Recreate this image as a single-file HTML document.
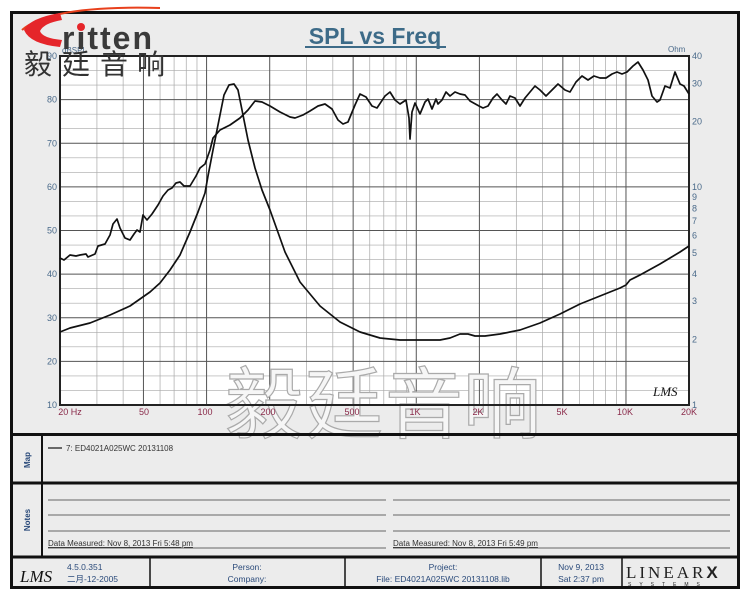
<!DOCTYPE html>
<html><head><meta charset="utf-8"><style>
body{margin:0;background:#fff;width:750px;height:600px;overflow:hidden}
svg{display:block}
text{font-family:"Liberation Sans","Noto Sans CJK SC",sans-serif}
</style></head><body>
<svg width="750" height="600" viewBox="0 0 750 600" xmlns="http://www.w3.org/2000/svg">
<rect x="0" y="0" width="750" height="600" fill="#fff"/>
<rect x="11.5" y="12.5" width="727" height="575" fill="#ececec" stroke="#111" stroke-width="3"/>
<!-- title -->
<text x="375" y="44" text-anchor="middle" font-size="23" font-weight="bold" fill="#3d6b88">SPL vs Freq</text>
<line x1="305" y1="47" x2="446" y2="47" stroke="#3d6b88" stroke-width="2"/>
<!-- plot -->
<rect x="60" y="56" width="629" height="349" fill="#fff"/>
<g id="grid" stroke="#a8a8a8" stroke-width="0.7"></g>
<g id="grid2" stroke="#555" stroke-width="1"></g>
<!-- watermark -->
<g font-size="78" fill="#f6f6f6" stroke="#aaa" stroke-width="1.2" style="font-family:'Noto Serif CJK SC','Noto Sans CJK SC',serif">
<text x="225" y="432">毅</text><text x="305" y="432">廷</text><text x="385" y="432">音</text><text x="463" y="432">响</text>
</g>
<rect x="60" y="56" width="629" height="349" fill="none" stroke="#222" stroke-width="2"/>
<polyline fill="none" stroke="#111" stroke-width="1.7" stroke-linejoin="round" points="60,258 64,260 70,255 76,256 80,255 86,254 88,257 95,254 98,246 105,244 110,235 113,224 117,219 120,228 125,238 130,240 134,234 137,230 140,232 143,215 147,220 152,214 158,205 163,196 168,190 172,188 176,183 180,182 184,186 190,186 196,176 200,168 205,164 210,150 213,138 220,130 230,125 240,118 248,110 255,101 262,102 270,106 280,112 290,117 295,118 303,115 310,111 318,106 325,104 332,109 338,120 343,124 348,122 355,105 360,94 366,97 372,106 377,108 385,96 390,92 395,100 400,104 403,102 406,100 409,118 410,139 412,112 415,103 420,114 425,102 428,99 432,109 436,99 438,104 442,100 446,92 450,96 455,92 460,94 465,95 470,101 479,106 483,108 488,106 493,98 497,94 502,100 506,104 510,96 515,98 520,106 525,98 530,92 535,86 540,90 546,96 552,90 558,84 565,90 570,92 576,82 582,76 588,80 594,76 600,78 606,78 612,74 617,72 622,74 627,72 633,66 638,62 643,70 648,80 652,96 657,102 660,100 665,86 670,88 675,72 680,84 684,86 689,94"/>
<polyline fill="none" stroke="#111" stroke-width="1.7" stroke-linejoin="round" points="60,332 70,328 90,323 110,315 130,306 150,292 160,283 170,270 180,255 190,232 198,212 205,193 208,176 213,150 218,125 224,95 229,85 234,84 238,90 242,110 248,140 255,168 262,190 270,210 285,252 300,282 320,306 340,322 360,332 380,338 400,340 420,340 440,340 450,338 460,334 468,334 475,336 485,336 500,334 520,330 540,323 560,314 580,304 600,296 620,288 626,285 630,280 640,275 660,264 680,252 689,246"/>
<text x="653" y="396" font-size="13" font-style="italic" fill="#111" style="font-family:'Liberation Serif',serif">LMS</text>
<g id="lbl" font-size="9" fill="#4a6a8a"></g>
<text x="62" y="53" font-size="8" fill="#4a6a8a">dBSPL</text>
<text x="668" y="52" font-size="8" fill="#4a6a8a">Ohm</text>
<g font-size="9" fill="#8a2a4a" text-anchor="middle">
<text x="70" y="415">20  Hz</text><text x="144" y="415">50</text><text x="205" y="415">100</text><text x="268" y="415">200</text><text x="352" y="415">500</text><text x="415" y="415">1K</text><text x="478" y="415">2K</text><text x="562" y="415">5K</text><text x="625" y="415">10K</text><text x="689" y="415">20K</text>
</g>
<!-- logo -->
<path d="M22,30 Q50,5 160,8" stroke="#e8401c" stroke-width="2" fill="none"/>
<path d="M60,13 Q30,18 24,30 Q30,44 60,47 L62,40 Q42,38 40,31 Q44,23 62,20 Z" fill="#e5252a"/>
<text x="62" y="49" font-size="32" font-weight="bold" fill="#3a3a3a" letter-spacing="2">ritten</text>
<circle cx="81" cy="27" r="4" fill="#e5252a"/>
<g font-size="28" fill="#333" style="font-family:'Noto Serif CJK SC','Noto Sans CJK SC',serif">
<text x="24" y="74">毅</text><text x="62" y="74">廷</text><text x="100" y="74">音</text><text x="137" y="74">响</text>
</g>
<!-- map -->
<line x1="11" y1="434.5" x2="739" y2="434.5" stroke="#111" stroke-width="3"/>
<line x1="11" y1="483" x2="739" y2="483" stroke="#111" stroke-width="3"/>
<line x1="11" y1="557" x2="739" y2="557" stroke="#111" stroke-width="3"/>
<line x1="42" y1="434" x2="42" y2="557" stroke="#111" stroke-width="2"/>
<text transform="translate(30,460) rotate(-90)" text-anchor="middle" font-size="8" font-weight="bold" fill="#2a4a7a">Map</text>
<text transform="translate(30,520) rotate(-90)" text-anchor="middle" font-size="8" font-weight="bold" fill="#2a4a7a">Notes</text>
<line x1="48" y1="448" x2="62" y2="448" stroke="#111" stroke-width="1.2"/>
<text x="66" y="451" font-size="8" fill="#333">7: ED4021A025WC   20131108</text>
<g stroke="#666" stroke-width="1">
<line x1="48" y1="500" x2="386" y2="500"/><line x1="48" y1="515" x2="386" y2="515"/><line x1="48" y1="531" x2="386" y2="531"/><line x1="48" y1="548" x2="386" y2="548"/>
<line x1="393" y1="500" x2="730" y2="500"/><line x1="393" y1="515" x2="730" y2="515"/><line x1="393" y1="531" x2="730" y2="531"/><line x1="393" y1="548" x2="730" y2="548"/>
</g>
<text x="48" y="546" font-size="8" fill="#333" text-decoration="underline">Data Measured: Nov  8, 2013  Fri  5:48 pm</text>
<text x="393" y="546" font-size="8" fill="#333" text-decoration="underline">Data Measured: Nov  8, 2013  Fri  5:49 pm</text>
<!-- footer -->
<g stroke="#111" stroke-width="1.5"><line x1="150" y1="557" x2="150" y2="587"/><line x1="345" y1="557" x2="345" y2="587"/><line x1="541" y1="557" x2="541" y2="587"/><line x1="622" y1="557" x2="622" y2="587"/></g>
<text x="20" y="582" font-size="17" font-style="italic" fill="#111" style="font-family:'Liberation Serif',serif">LMS</text>
<g font-size="8.5" fill="#2a4a7a">
<text x="67" y="570">4.5.0.351</text><text x="67" y="582">二月-12-2005</text>
<text x="247" y="570" text-anchor="middle">Person:</text><text x="247" y="582" text-anchor="middle">Company:</text>
<text x="443" y="570" text-anchor="middle">Project:</text><text x="443" y="582" text-anchor="middle">File: ED4021A025WC 20131108.lib</text>
<text x="581" y="570" text-anchor="middle">Nov  9, 2013</text><text x="581" y="582" text-anchor="middle">Sat  2:37 pm</text>
</g>
<text x="626" y="578" font-size="17" fill="#222" letter-spacing="3" style="font-family:'Liberation Serif',serif">LINEAR<tspan font-weight="bold" font-family="Liberation Sans">X</tspan></text>
<text x="628" y="586" font-size="5" fill="#222" letter-spacing="8">SYSTEMS</text>
</svg>
<script>
(function(){
var ns="http://www.w3.org/2000/svg",g=document.getElementById('grid'),g2=document.getElementById('grid2'),lb=document.getElementById('lbl');
function L(p,x1,y1,x2,y2){var l=document.createElementNS(ns,'line');l.setAttribute('x1',x1);l.setAttribute('y1',y1);l.setAttribute('x2',x2);l.setAttribute('y2',y2);p.appendChild(l);}
function T(x,y,s,a){var t=document.createElementNS(ns,'text');t.setAttribute('x',x);t.setAttribute('y',y);if(a)t.setAttribute('text-anchor',a);t.textContent=s;lb.appendChild(t);}
for(var d=10;d<=10000;d*=10){for(var m=1;m<10;m++){var f=d*m;if(f<20||f>20000)continue;var x=60+209.7*Math.log10(f/20);L((m==1||m==2||m==5)?g2:g,x,56,x,405);}}
for(var i=0;i<=24;i++){var y=56+i*349/24;L(i%3==0?g2:g,60,y,689,y);}
for(var v=90;v>=10;v-=10){T(57,56+(90-v)*4.3625+3,v,'end');}
var oh=[40,30,20,10,9,8,7,6,5,4,3,2,1];
oh.forEach(function(o){var y=405-217.8*Math.log10(o);T(692,y+3,o,'start');});
})();
</script>
</body></html>
